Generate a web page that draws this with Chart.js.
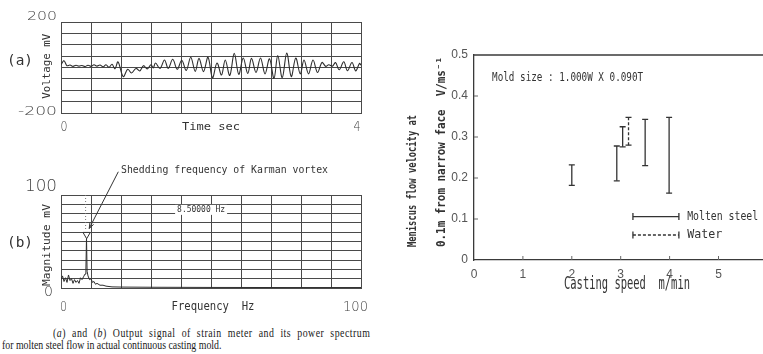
<!DOCTYPE html>
<html><head><meta charset="utf-8">
<script src="https://cdn.jsdelivr.net/npm/chart.js"></script>
<style>
html,body{margin:0;padding:0;background:#fff;overflow:hidden;width:763px;height:354px;}
canvas{position:absolute;display:block;}
.cap{position:absolute;font-family:"Liberation Serif","Times New Roman",serif;font-size:12px;line-height:12px;color:#1a1a1a;transform-origin:0 50%;}
</style></head><body>
<canvas id="ca" width="380" height="145" style="left:0;top:0"></canvas>
<canvas id="cb" width="380" height="170" style="left:0;top:150px"></canvas>
<canvas id="cc" width="380" height="290" style="left:400px;top:30px"></canvas>
<div class="cap" style="left:53px;top:327px;width:387px;letter-spacing:0.6px;text-align:justify;text-align-last:justify;transform:scaleX(0.82)">(<i>a</i>) and (<i>b</i>) Output signal of strain meter and its power spectrum</div>
<div class="cap" style="left:2px;top:338.5px;white-space:nowrap;transform:scaleX(0.82)">for molten steel flow in actual continuous casting mold.</div>
<script>
// ---------- Panel (a): strain meter output ----------
const timeSec = [0.00,0.04,0.08,0.12,0.16,0.20,0.24,0.28,0.32,0.36,0.40,0.44,0.48,0.52,0.56,0.60,0.64,0.68,0.72,0.76,0.83,0.89,0.94,1.00,1.05,1.10,1.15,1.20,1.23,
 1.26,1.32,1.38,1.43,1.49,1.55,1.61,1.67,1.73,1.79,1.84,1.90,1.96,2.02,2.08,2.14,2.19,2.25,2.31,2.37,2.43,2.49,2.54,2.60,2.66,2.72,2.78,2.84,2.89,2.95,3.01,3.07,3.13,3.19,3.24,3.30,3.36,3.42,3.48,
 3.53,3.57,3.62,3.66,3.71,3.77,3.82,3.88,3.93,3.98,4.00];
const voltageMV = [12,30,8,11,5,10,6,9,4,10,5,12,6,11,3,12,1,14,-6,25,-40,-8,-24,-4,-15,8,-6,12,-2,
 20,-4,33,-4,36,-8,32,-13,45,-17,40,-18,45,-45,20,-33,33,-35,62,-30,42,-26,40,-22,42,-28,38,-48,52,-45,64,-40,42,-28,33,-28,33,-22,22,
 5,12,6,22,-10,25,-14,22,-15,18,10];
const timeTickLabels = ['0','4'];
const voltTickLabels = ['200','-200'];

// ---------- Panel (b): power spectrum ----------
const freqHz = [0,0.5,1,1.5,2,2.5,3,3.5,4,4.5,5,5.5,6,6.5,7,7.5,8,8.3,8.5,8.7,9,9.5,10,10.5,11,11.5,12,13,14,15,17,20,30,50,75,100];
const magnitudeMV = [9,13,7,11,6,14,8,10,5,9,6,8,5,11,9,12,15,20,54,18,13,9,10,6,7,4,5,3,3,2,1.2,1,0.8,0.6,0.5,0.5];
const peakMarker = [{x:8.55, y:57.5}];
const cursorHz = 8.2;
const freqTickLabels = ['0','100'];
const magTickLabels = ['100','0'];

// ---------- Panel (c): meniscus flow velocity ----------
const steelSpeed = [2.0, 2.92, 3.04, 3.50, 3.99];
const steelLow   = [0.182, 0.193, 0.276, 0.230, 0.163];
const steelHigh  = [0.232, 0.278, 0.325, 0.343, 0.348];
const waterSpeed = [3.16];
const waterLow   = [0.280];
const waterHigh  = [0.348];
const legendX = [3.25, 4.19];
const legendY = [0.106, 0.061];
const legendNames = ['Molten steel','Water'];

Chart.defaults.animation = false;
Chart.defaults.font.family = '"DejaVu Sans"';

function fitText(ctx, txt, x, y, w, font, o) {
  o = o || {};
  ctx.save();
  ctx.font = font;
  ctx.fillStyle = o.color || '#333';
  ctx.textBaseline = 'middle';
  ctx.textAlign = o.align || 'center';
  ctx.translate(x, y);
  if (o.rot) ctx.rotate(o.rot);
  const m = ctx.measureText(txt).width;
  if (w) ctx.scale(w / m, 1);
  ctx.fillText(txt, 0, 0);
  ctx.restore();
}
const NUM = s => '300 ' + s + 'px "DejaVu Sans"';
const MONO = s => s + 'px "DejaVu Sans Mono"';
const GRID = '#4a4a4a';

function errPoints(xs, lo, hi) {
  const out = [];
  xs.forEach((x, i) => { out.push({x:x, y:lo[i]}, {x:x, y:hi[i]}, {x:x, y:null}); });
  return out;
}

// ----- Chart A -----
const plugA = {id:'plugA', afterDraw(c) {
  const ctx = c.ctx, xs = c.scales.x, ys = c.scales.y, a = c.chartArea;
  fitText(ctx, voltTickLabels[0], a.left - 4, ys.getPixelForValue(200) - 5, 30, NUM(13), {align:'right', color:'#444'});
  fitText(ctx, voltTickLabels[1], a.left - 4, ys.getPixelForValue(-200) - 1, 39, NUM(13), {align:'right', color:'#444'});
  fitText(ctx, timeTickLabels[0], xs.getPixelForValue(0) + 3, a.bottom + 14, 7, NUM(14), {color:'#444'});
  fitText(ctx, timeTickLabels[1], xs.getPixelForValue(4) - 4, a.bottom + 14, 7, NUM(14), {color:'#444'});
  fitText(ctx, 'Time sec', 211, a.bottom + 14, 58, MONO(11));
  fitText(ctx, '(a)', 20, ys.getPixelForValue(28), 26, MONO(14));
  fitText(ctx, 'Voltage mV', 47, ys.getPixelForValue(5), 65, MONO(11), {rot:-Math.PI/2});
}};
new Chart(document.getElementById('ca'), {
  type:'line',
  data:{datasets:[{data:timeSec.map((t,i)=>({x:t,y:voltageMV[i]})), borderColor:'#2e2e2e', borderWidth:1.1, pointRadius:0, tension:0.35, fill:false}]},
  options:{responsive:false, events:[], layout:{padding:{top:22,right:19,left:0,bottom:0}},
    plugins:{legend:{display:false}, tooltip:{enabled:false}},
    scales:{
      x:{type:'linear', min:0, max:4, ticks:{display:false, stepSize:0.4}, grid:{color:GRID, lineWidth:1, drawTicks:false}, border:{color:GRID}, afterFit:s=>{s.height=32;}},
      y:{type:'linear', min:-200, max:200, ticks:{display:false, stepSize:50}, grid:{color:GRID, lineWidth:1, drawTicks:false}, border:{color:GRID}, afterFit:s=>{s.width=61;}}
    }},
  plugins:[plugA]
});

// ----- Chart B -----
const plugB = {id:'plugB', afterDraw(c) {
  const ctx = c.ctx, xs = c.scales.x, ys = c.scales.y, a = c.chartArea;
  fitText(ctx, magTickLabels[0], a.left - 4, ys.getPixelForValue(100) - 8, 32, NUM(15), {align:'right', color:'#444'});
  fitText(ctx, magTickLabels[1], a.left - 12.5, a.bottom + 4, 9, NUM(14), {color:'#444'});
  fitText(ctx, freqTickLabels[0], xs.getPixelForValue(0) + 2.5, a.bottom + 19, 7, NUM(14), {color:'#444'});
  fitText(ctx, freqTickLabels[1], xs.getPixelForValue(100) + 7, a.bottom + 19, 25, NUM(14), {align:'right', color:'#444'});
  fitText(ctx, 'Frequency  Hz', 213, a.bottom + 19, 83, MONO(12));
  fitText(ctx, '(b)', 20, 93, 26, MONO(14));
  fitText(ctx, 'Magnitude mV', 47, 95, 82, MONO(11), {rot:-Math.PI/2});
  // readout box
  const bx = xs.getPixelForValue(38.7), by = ys.getPixelForValue(84);
  ctx.save(); ctx.fillStyle = '#fff'; ctx.fillRect(bx - 2, by - 5, 52, 10); ctx.restore();
  fitText(ctx, '8.50000 Hz', bx, by, 48, MONO(9), {align:'left'});
  // annotation
  const x0 = xs.getPixelForValue(19.1), y0 = ys.getPixelForValue(125);
  const x1 = xs.getPixelForValue(9.4), y1 = ys.getPixelForValue(64);
  ctx.save(); ctx.strokeStyle = '#333'; ctx.lineWidth = 1;
  ctx.beginPath(); ctx.moveTo(x0, y0); ctx.lineTo(x1, y1); ctx.stroke();
  const ang = Math.atan2(y1 - y0, x1 - x0);
  ctx.beginPath();
  ctx.moveTo(x1 - 6*Math.cos(ang - 0.35), y1 - 6*Math.sin(ang - 0.35));
  ctx.lineTo(x1, y1);
  ctx.lineTo(x1 - 6*Math.cos(ang + 0.35), y1 - 6*Math.sin(ang + 0.35));
  ctx.stroke(); ctx.restore();
  fitText(ctx, 'Shedding frequency of Karman vortex', xs.getPixelForValue(20), ys.getPixelForValue(126), 207, MONO(10), {align:'left'});
}};
new Chart(document.getElementById('cb'), {
  type:'line',
  data:{datasets:[
    {data:peakMarker, showLine:false, pointStyle:'triangle', rotation:180, pointRadius:4.2, backgroundColor:'#fff', borderColor:'#333', borderWidth:1, order:0},
    {data:[{x:cursorHz,y:100},{x:cursorHz,y:62}], borderColor:'#777', borderWidth:1, borderDash:[1,2], pointRadius:0, order:1},
    {data:freqHz.map((f,i)=>({x:f,y:magnitudeMV[i]})), borderColor:'#2e2e2e', borderWidth:1, pointRadius:0, tension:0, order:2}
  ]},
  options:{responsive:false, events:[], layout:{padding:{top:45,right:19,left:0,bottom:0}},
    plugins:{legend:{display:false}, tooltip:{enabled:false}},
    scales:{
      x:{type:'linear', min:0, max:100, ticks:{display:false, stepSize:10}, grid:{color:GRID, lineWidth:1, drawTicks:false}, border:{color:GRID}, afterFit:s=>{s.height=32;}},
      y:{type:'linear', min:0, max:100, ticks:{display:false, stepSize:10}, grid:{color:GRID, lineWidth:1, drawTicks:false}, border:{color:GRID}, afterFit:s=>{s.width=61;}}
    }},
  plugins:[plugB]
});

// ----- Chart C -----
const plugC = {id:'plugC', afterDraw(c) {
  const ctx = c.ctx, xs = c.scales.x, ys = c.scales.y, a = c.chartArea;
  ctx.save(); ctx.strokeStyle = '#3a3a3a'; ctx.lineWidth = 1.3;
  ctx.beginPath(); ctx.moveTo(a.left, ys.getPixelForValue(0.5)); ctx.lineTo(a.right, ys.getPixelForValue(0.5)); ctx.stroke();
  ctx.lineWidth = 1; ctx.strokeStyle = '#666';
  [1,2,3,4,5].forEach(v => { const p = xs.getPixelForValue(v); ctx.beginPath(); ctx.moveTo(p, a.bottom); ctx.lineTo(p, a.bottom - 4); ctx.stroke(); });
  [0.1,0.2,0.3,0.4].forEach(v => { const p = ys.getPixelForValue(v); ctx.beginPath(); ctx.moveTo(a.left, p); ctx.lineTo(a.left + 4, p); ctx.stroke(); });
  ctx.restore();
  fitText(ctx, 'Mold size : 1.000W X 0.090T', xs.getPixelForValue(0.37), ys.getPixelForValue(0.444), 151, MONO(13), {align:'left'});
  fitText(ctx, legendNames[0], xs.getPixelForValue(4.36), ys.getPixelForValue(legendY[0]), 71, MONO(13), {align:'left'});
  fitText(ctx, legendNames[1], xs.getPixelForValue(4.36), ys.getPixelForValue(legendY[1]), 35, MONO(13), {align:'left'});
  fitText(ctx, 'Casting speed  m/min', 227, a.bottom + 25, 126, MONO(17));
  fitText(ctx, 'Meniscus flow velocity at', 13, 217, 132, 'bold ' + MONO(12), {align:'left', rot:-Math.PI/2});
  fitText(ctx, '0.1m from narrow face  V/ms\u207B\u00B9', 42, 217, 190, 'bold ' + MONO(12), {align:'left', rot:-Math.PI/2});
}};
const capStyle = {pointStyle:'line', pointRadius:3, pointBorderColor:'#333', pointBorderWidth:1.3, borderColor:'#333', borderWidth:1.3, spanGaps:false};
new Chart(document.getElementById('cc'), {
  type:'line',
  data:{datasets:[
    Object.assign({data:errPoints(steelSpeed, steelLow, steelHigh)}, capStyle),
    Object.assign({data:errPoints(waterSpeed, waterLow, waterHigh), borderDash:[3,2]}, capStyle),
    Object.assign({data:legendX.map(x=>({x:x,y:legendY[0]}))}, capStyle, {pointRotation:90, pointRadius:3.5}),
    Object.assign({data:legendX.map(x=>({x:x,y:legendY[1]})), borderDash:[3,2]}, capStyle, {pointRotation:90, pointRadius:3.5})
  ]},
  options:{responsive:false, events:[], layout:{padding:{top:25,right:12.6,left:0,bottom:0}},
    plugins:{legend:{display:false}, tooltip:{enabled:false}},
    scales:{
      x:{type:'linear', min:0, max:6, ticks:{stepSize:1, padding:7, color:'#555', font:{family:'"Liberation Sans"', size:12}}, grid:{display:false, drawTicks:false}, border:{display:true, color:'#3a3a3a', width:1.3}, afterFit:s=>{s.height=60;}},
      y:{type:'linear', min:0, max:0.5, ticks:{stepSize:0.1, padding:6, color:'#555', font:{family:'"Liberation Sans"', size:12}}, grid:{display:false, drawTicks:false}, border:{display:true, color:'#3a3a3a', width:1.3}, afterFit:s=>{s.width=74;}}
    }},
  plugins:[plugC]
});
</script>
</body></html>
